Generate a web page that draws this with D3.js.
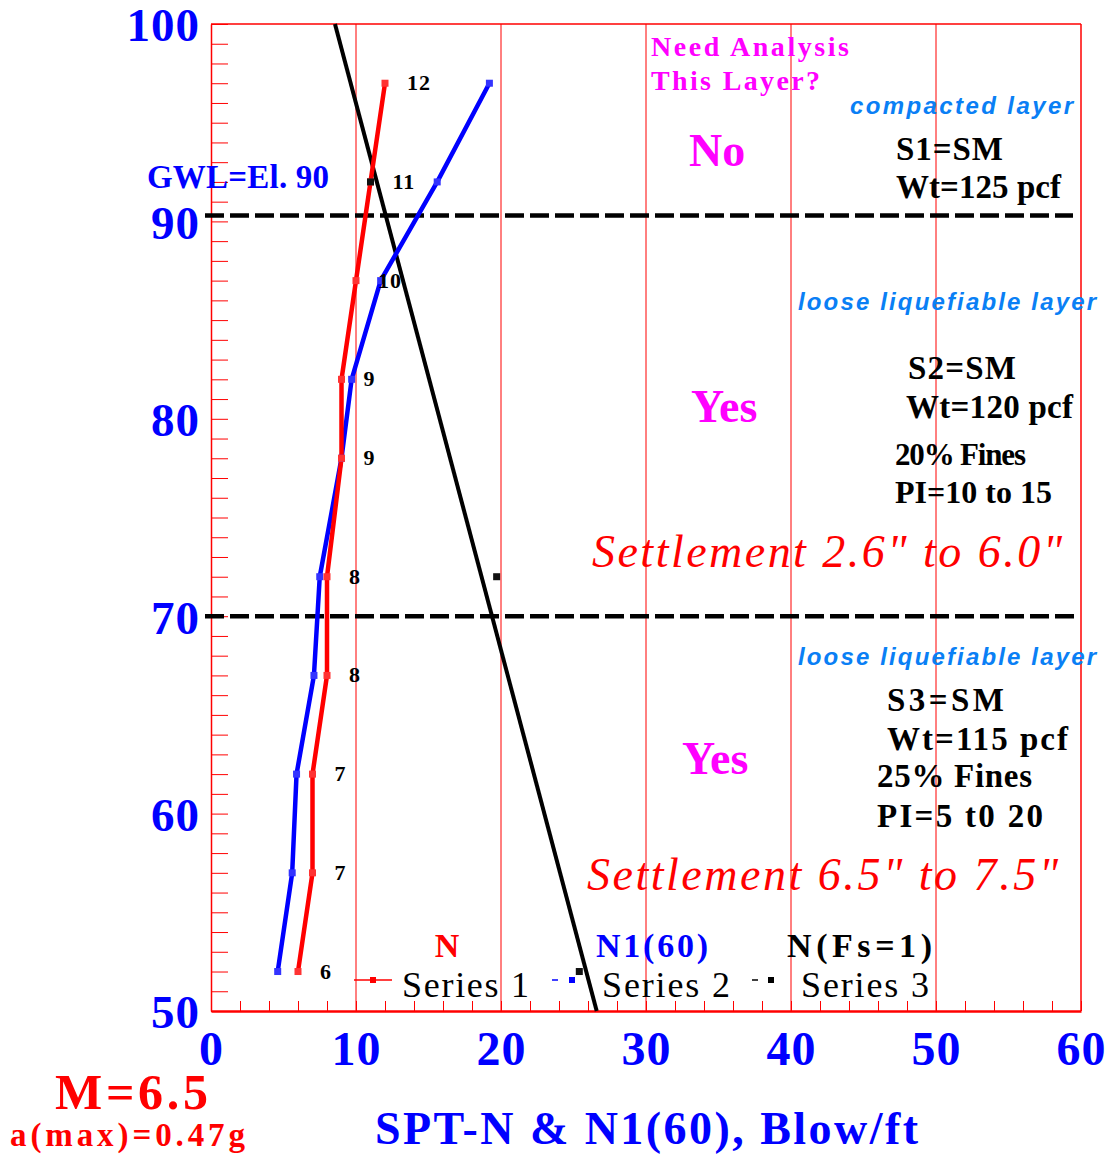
<!DOCTYPE html>
<html><head><meta charset="utf-8">
<script src="https://cdn.jsdelivr.net/npm/d3@7"></script>
<style>body{margin:0;background:#fff}svg{display:block}</style>
</head><body><svg id="c" width="1109" height="1156"></svg>
<script>
// ---- data ----
const elevations = [97, 92, 87, 82, 78, 72, 67, 62, 57, 52];
const nValues = [12, 11, 10, 9, 9, 8, 8, 7, 7, 6];
const n160Values = [19.2, 15.6, 11.7, 9.7, 9.0, 7.5, 7.1, 5.9, 5.6, 4.6];
const fsElevations = [92, 72, 52];
const fsValues = [11, 19.7, 25.4];
const fsLineElev = [100, 50];
const fsLineValues = [8.55, 26.6];
const layerBoundaries = [90.3, 70];
const xTicks = [0, 10, 20, 30, 40, 50, 60];
const yTicks = [50, 60, 70, 80, 90, 100];
const seriesNames = ["Series 1", "Series 2", "Series 3"];
const seriesTitles = ["N", "N1(60)", "N(Fs=1)"];

// ---- drawing ----
const SERIF = "'Liberation Serif','Times New Roman',serif";
const SANS = "'Liberation Sans',Arial,sans-serif";
const svg = d3.select("#c");
const x = d3.scaleLinear().domain([0, 60]).range([211, 1081]);
const y = d3.scaleLinear().domain([50, 100]).range([1011, 24]);

// vertical gridlines + frame
svg.append("g").selectAll("line").data(xTicks.slice(1)).join("line")
  .attr("x1", d => x(d)).attr("x2", d => x(d)).attr("y1", y(100)).attr("y2", y(50))
  .attr("stroke", "#ff0000").attr("stroke-width", d => d === 60 ? 1.5 : 1);
svg.append("line").attr("x1", x(0)).attr("x2", x(60)).attr("y1", y(100)).attr("y2", y(100))
  .attr("stroke", "#ff0000").attr("stroke-width", 1.5);

// minor ticks
const gxm = svg.append("g").attr("transform", `translate(0,${y(50)})`)
  .call(d3.axisBottom(x).tickValues(d3.range(0, 61, 2)).tickSize(-10).tickFormat("").tickSizeOuter(0));
gxm.selectAll("line").attr("stroke", "#ff0000").attr("stroke-width", 1);
gxm.select(".domain").attr("stroke", "#ff0000").attr("stroke-width", 2.5);
const gym = svg.append("g").attr("transform", `translate(${x(0)},0)`)
  .call(d3.axisLeft(y).tickValues(d3.range(50, 101, 1)).tickSize(-17).tickFormat("").tickSizeOuter(0));
gym.selectAll("line").attr("stroke", "#ff0000").attr("stroke-width", 1);
gym.select(".domain").attr("stroke", "#ff0000").attr("stroke-width", 1.5);

// tick labels
const gx = svg.append("g").attr("transform", `translate(0,${y(50)})`)
  .call(d3.axisBottom(x).tickValues(xTicks).tickSize(0).tickPadding(20).tickFormat(d3.format("d")));
gx.select(".domain").remove();
gx.selectAll("text").attr("fill", "#0000ff").attr("font-family", SERIF).attr("font-weight", "bold")
  .attr("font-size", 48).attr("letter-spacing", 1);
const gy = svg.append("g").attr("transform", `translate(${x(0)},0)`)
  .call(d3.axisLeft(y).tickValues(yTicks).tickSize(0).tickPadding(11).tickFormat(d3.format("d")));
gy.select(".domain").remove();
gy.selectAll("text").attr("fill", "#0000ff").attr("font-family", SERIF).attr("font-weight", "bold")
  .attr("font-size", 47).attr("letter-spacing", 1).attr("dy", "0.36em");

// layer boundaries (dashed)
svg.append("g").selectAll("line").data(layerBoundaries).join("line")
  .attr("x1", x(0) - 6).attr("x2", (d, i) => x(60) - (i === 0 ? 8 : 3))
  .attr("y1", d => y(d)).attr("y2", d => y(d))
  .attr("stroke", "#000").attr("stroke-width", 4.5).attr("stroke-dasharray", "19,6");

// Fs=1 line
const fsLine = fsLineElev.map((e, i) => [fsLineValues[i], e]);
svg.append("path").datum(fsLine)
  .attr("d", d3.line().x(d => x(d[0])).y(d => y(d[1])))
  .attr("fill", "none").attr("stroke", "#000").attr("stroke-width", 4);

// series lines
const line = d3.line().x(d => x(d[0])).y(d => y(d[1]));
const nData = elevations.map((e, i) => [nValues[i], e]);
const n160Data = elevations.map((e, i) => [n160Values[i], e]);
svg.append("path").datum(n160Data).attr("d", line).attr("fill", "none")
  .attr("stroke", "#0000ff").attr("stroke-width", 4.5).attr("stroke-linejoin", "round");
svg.append("path").datum(nData).attr("d", line).attr("fill", "none")
  .attr("stroke", "#ff0000").attr("stroke-width", 4.5).attr("stroke-linejoin", "round");

function markers(data, color) {
  svg.append("g").selectAll("rect").data(data).join("rect")
    .attr("x", d => x(d[0]) - 3.5).attr("y", d => y(d[1]) - 3.5)
    .attr("width", 7).attr("height", 7).attr("fill", color);
}
markers(n160Data, "#3333ff");
markers(nData, "#ff3333");
markers(fsValues.map((v, i) => [v, fsElevations[i]]), "#111");

// N value labels
svg.append("g").selectAll("text").data(nData).join("text")
  .attr("x", d => x(d[0]) + 22).attr("y", d => y(d[1]) + 7)
  .attr("font-family", SERIF).attr("font-weight", "bold").attr("font-size", 22)
  .attr("letter-spacing", 1).attr("fill", "#000").text(d => d[0]);

// text helper
function txt(xp, yp, s, o) {
  const t = svg.append("text").attr("x", xp).attr("y", yp).text(s)
    .attr("font-family", o.family || SERIF).attr("font-size", o.size)
    .attr("font-weight", o.weight || "bold").attr("font-style", o.style || "normal")
    .attr("fill", o.fill || "#000");
  if (o.anchor) t.attr("text-anchor", o.anchor);
  if (o.len) t.attr("textLength", o.len).attr("lengthAdjust", "spacing");
  return t;
}

// legend
const legendSamples = [
  {x0: 354, x1: 392, m: 373, color: "#ff0000", tx: 402, tlen: 127, hx: 447, hlen: null, hcolor: "#ff0000"},
  {x0: 552, x1: 558, m: 572, color: "#0000ff", tx: 602, tlen: 128, hx: 596, hlen: 112, hcolor: "#0000ff"},
  {x0: 752, x1: 758, m: 771, color: "#000", tx: 801, tlen: 128, hx: 787, hlen: 145, hcolor: "#000"}
];
seriesNames.forEach((name, i) => {
  const s = legendSamples[i];
  svg.append("line").attr("x1", s.x0).attr("x2", s.x1).attr("y1", 980).attr("y2", 980)
    .attr("stroke", s.color).attr("stroke-width", 1.5);
  svg.append("rect").attr("x", s.m - 3).attr("y", 977).attr("width", 6).attr("height", 6).attr("fill", s.color);
  txt(s.tx, 997, name, {size: 36, weight: "normal", len: s.tlen});
  txt(s.hx, 957, seriesTitles[i], {size: 34, fill: s.hcolor, len: s.hlen, anchor: s.hlen ? null : "middle"});
});

// annotations
const MAG = "#ff00ff", LB = "#0a7ff5";
txt(651, 56, "Need Analysis", {size: 28, fill: MAG, len: 198});
txt(651, 90, "This Layer?", {size: 28, fill: MAG, len: 169});
txt(850, 114, "compacted layer", {size: 24, family: SANS, style: "italic", fill: LB, len: 223});
txt(689, 166, "No", {size: 46, fill: MAG});
txt(896, 160, "S1=SM", {size: 33, len: 107});
txt(896, 198, "Wt=125 pcf", {size: 33, len: 165});
txt(147, 188, "GWL=El.  90", {size: 33, fill: "#0000ff", len: 182});

txt(798, 310, "loose liquefiable layer", {size: 24, family: SANS, style: "italic", fill: LB, len: 298});
txt(691, 422, "Yes", {size: 46, fill: MAG});
txt(908, 379, "S2=SM", {size: 33, len: 108});
txt(906, 418, "Wt=120 pcf", {size: 33, len: 167});
txt(895, 465, "20% Fines", {size: 31, len: 131});
txt(895, 503, "PI=10 to 15", {size: 32, len: 157});
txt(592, 567, "Settlement 2.6\" to 6.0\"", {size: 46, weight: "normal", style: "italic", fill: "#ff0000", len: 470});

txt(798, 665, "loose liquefiable layer", {size: 24, family: SANS, style: "italic", fill: LB, len: 298});
txt(887, 711, "S3=SM", {size: 33, len: 117});
txt(887, 750, "Wt=115 pcf", {size: 33, len: 181});
txt(682, 774, "Yes", {size: 46, fill: MAG});
txt(877, 787, "25% Fines", {size: 33, len: 155});
txt(877, 827, "PI=5 t0 20", {size: 33, len: 166});
txt(587, 890, "Settlement 6.5\" to 7.5\"", {size: 46, weight: "normal", style: "italic", fill: "#ff0000", len: 471});

txt(55, 1109, "M=6.5", {size: 50, fill: "#ff0000", len: 153});
txt(10, 1146, "a(max)=0.47g", {size: 33, fill: "#ff0000", len: 235});
txt(375, 1144, "SPT-N & N1(60), Blow/ft", {size: 46, fill: "#0000ff", len: 543});
</script>
</body></html>
